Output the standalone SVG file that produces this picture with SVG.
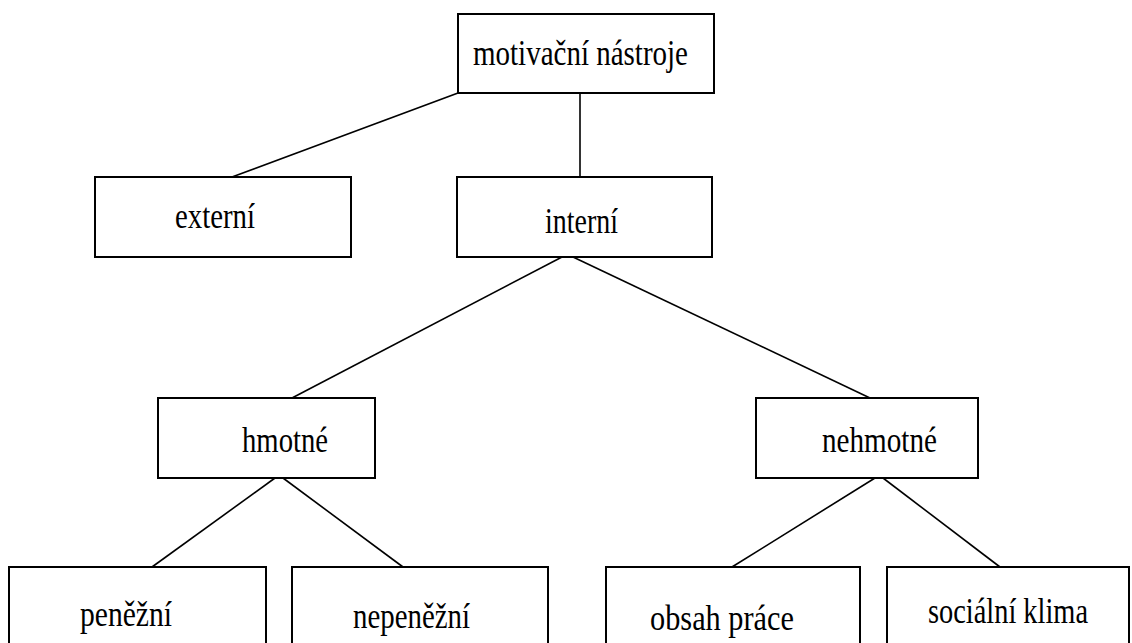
<svg xmlns="http://www.w3.org/2000/svg" width="1132" height="643" viewBox="0 0 1132 643">
<style>
.box{fill:#fff;stroke:#000;stroke-width:2}
.lbl{font-family:"Liberation Serif","Times New Roman",serif;font-size:35px;fill:#000;text-anchor:start}
.con{stroke:#000;stroke-width:1.6;fill:none}
</style>
<rect width="1132" height="643" fill="#fff"/>
<g id="connectors">
<line class="con" x1="458" y1="93" x2="232" y2="177"/>
<line class="con" x1="580" y1="93" x2="580" y2="177"/>
<line class="con" x1="562" y1="257" x2="292" y2="398"/>
<line class="con" x1="573" y1="257" x2="870" y2="398"/>
<line class="con" x1="275" y1="478" x2="152" y2="567"/>
<line class="con" x1="283" y1="478" x2="403" y2="567"/>
<line class="con" x1="875" y1="478" x2="732" y2="567"/>
<line class="con" x1="883" y1="478" x2="1000" y2="567"/>
</g>
<g id="n-motivacni">
<rect class="box" x="458" y="14" width="256" height="79"/>
<text class="lbl" x="473" y="65" textLength="215" lengthAdjust="spacingAndGlyphs">motivační nástroje</text>
</g>
<g id="n-externi">
<rect class="box" x="95" y="177" width="256" height="80"/>
<text class="lbl" x="175" y="228" textLength="80" lengthAdjust="spacingAndGlyphs">externí</text>
</g>
<g id="n-interni">
<rect class="box" x="457" y="177" width="255" height="80"/>
<text class="lbl" x="545" y="233" textLength="73" lengthAdjust="spacingAndGlyphs">interní</text>
</g>
<g id="n-hmotne">
<rect class="box" x="158" y="398" width="217" height="80"/>
<text class="lbl" x="242" y="452" textLength="86" lengthAdjust="spacingAndGlyphs">hmotné</text>
</g>
<g id="n-nehmotne">
<rect class="box" x="756" y="398" width="222" height="80"/>
<text class="lbl" x="822" y="452" textLength="115" lengthAdjust="spacingAndGlyphs">nehmotné</text>
</g>
<g id="n-penezni">
<rect class="box" x="9" y="567" width="257" height="90"/>
<text class="lbl" x="80" y="626" textLength="92" lengthAdjust="spacingAndGlyphs">peněžní</text>
</g>
<g id="n-nepenezni">
<rect class="box" x="292" y="567" width="256" height="90"/>
<text class="lbl" x="353" y="628" textLength="117" lengthAdjust="spacingAndGlyphs">nepeněžní</text>
</g>
<g id="n-obsah">
<rect class="box" x="606" y="567" width="254" height="90"/>
<text class="lbl" x="650" y="630" textLength="144" lengthAdjust="spacingAndGlyphs">obsah práce</text>
</g>
<g id="n-socialni">
<rect class="box" x="887" y="567" width="242" height="90"/>
<text class="lbl" x="928" y="623" textLength="160" lengthAdjust="spacingAndGlyphs">sociální klima</text>
</g>
</svg>
